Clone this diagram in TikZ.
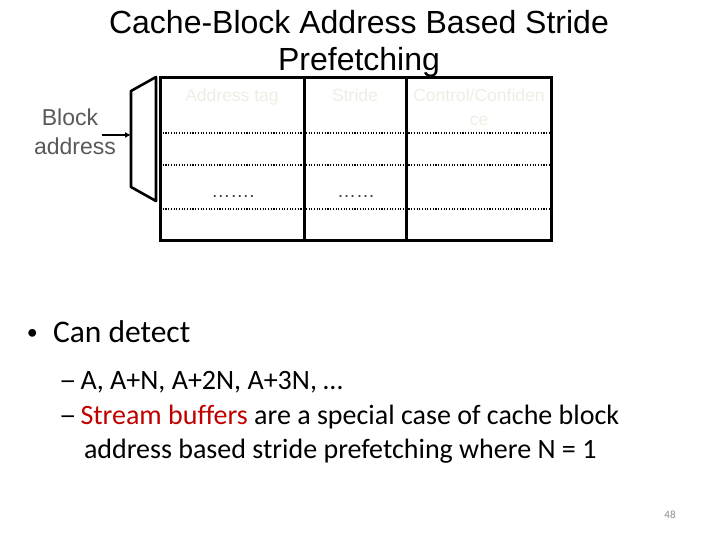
\documentclass[tikz,border=0pt]{standalone}
\usepackage{fontspec}
\usepackage{graphicx}
\setmainfont{Carlito}[Ligatures=CommonOff]
\newfontfamily\arialfont{Liberation Sans}
\usetikzlibrary{arrows.meta}
\definecolor{slideRed}{HTML}{C00000}
\definecolor{slideGray}{HTML}{595959}
\definecolor{pageGray}{HTML}{8C8C8C}
\definecolor{headTint}{HTML}{EFEDE3}
\newcommand{\bulletmark}{\makebox[26pt][l]{\raisebox{2.5pt}{\fontsize{22}{26}\selectfont\textbullet}}}
\newcommand{\dashmark}{\makebox[18.5pt][l]{\hspace{-3pt}\scalebox{1.25}[1]{–}}}
\tikzset{
    EMPTY/.style={inner sep=0mm, outer sep=0mm},
    TITLE_TEXT/.style={EMPTY, anchor=base, font={\arialfont\fontsize{32}{38}\selectfont}},
    LABEL_TEXT/.style={EMPTY, anchor=base, text=slideGray,
        font={\arialfont\fontsize{23}{27}\selectfont}},
    HEAD_TEXT/.style={EMPTY, anchor=base, text=headTint,
        font={\arialfont\fontsize{17.5}{21}\selectfont}},
    DOTS_TEXT/.style={EMPTY, anchor=base, text=black!75,
        font={\arialfont\fontsize{19}{22}\selectfont}},
    BULLET_TEXT/.style={EMPTY, anchor=base west, font={\fontsize{31.5}{38}\selectfont}},
    SUB_TEXT/.style={EMPTY, anchor=base west, font={\fontsize{28}{34}\selectfont}},
    PAGE_TEXT/.style={EMPTY, anchor=base, text=pageGray, font={\fontsize{11}{13}\selectfont}},
    EDGE/.style={draw=black, line width=3pt},
    MUX_EDGE/.style={draw=black, line width=2.6pt, line join=round},
    ARROW_EDGE/.style={draw=black, line width=2.4pt, -{Latex[length=6pt, width=6pt]}},
    DOTTED_EDGE/.style={-, dash pattern=on 1.1pt off 1.6pt, line width=1.1pt, black}
}
\pgfdeclarelayer{edgelayer}
\pgfdeclarelayer{nodelayer}
\pgfsetlayers{edgelayer,nodelayer,main}

\begin{document}
\begin{tikzpicture}[x=1pt, y=-1pt]
    \useasboundingbox (0,0) rectangle (720,540);
    \begin{pgfonlayer}{nodelayer}
        % title and labels
        \node [TITLE_TEXT] (1) at (359, 34) {Cache-Block Address Based Stride};
        \node [TITLE_TEXT] (2) at (359, 71) {Prefetching};
        \node [LABEL_TEXT] (3) at (70, 126) {Block};
        \node [LABEL_TEXT] (4) at (75, 155) {address};
        \node [HEAD_TEXT] (5) at (232, 102) {Address tag};
        \node [HEAD_TEXT] (6) at (355, 102) {Stride};
        \node [HEAD_TEXT] (7) at (479, 102) {Control/Confiden};
        \node [HEAD_TEXT] (8) at (479, 126) {ce};
        \node [DOTS_TEXT] (9) at (233, 197) {\ldots\ldots.};
        \node [DOTS_TEXT] (10) at (356, 197) {\ldots\ldots};
        % bullets
        \node [BULLET_TEXT] (11) at (27, 342) {\bulletmark Can detect};
        \node [SUB_TEXT] (12) at (62, 389) {\dashmark A, A+N, A+2N, A+3N, …};
        \node [SUB_TEXT] (13) at (62, 424) {\dashmark\textcolor{slideRed}{Stream buffers} are a special case of cache block};
        \node [SUB_TEXT] (14) at (84, 458) {address based stride prefetching where N = 1};
        \node [PAGE_TEXT] (15) at (670, 518) {48};
        % corners
        \coordinate (16) at (160, 78);
        \coordinate (17) at (551, 78);
        \coordinate (18) at (551, 240);
        \coordinate (19) at (160, 240);
        \coordinate (20) at (304, 78);
        \coordinate (21) at (304, 240);
        \coordinate (22) at (406, 78);
        \coordinate (23) at (406, 240);
        \coordinate (24) at (160, 133);
        \coordinate (25) at (551, 133);
        \coordinate (26) at (160, 165);
        \coordinate (27) at (551, 165);
        \coordinate (28) at (160, 209);
        \coordinate (29) at (551, 209);
        \coordinate (30) at (131, 91);
        \coordinate (31) at (156, 77);
        \coordinate (32) at (156, 201);
        \coordinate (33) at (131, 187);
        \coordinate (34) at (102, 135);
        \coordinate (35) at (131, 135);
    \end{pgfonlayer}
    \begin{pgfonlayer}{edgelayer}
        \draw[DOTTED_EDGE] (24) to (25);
        \draw[DOTTED_EDGE] (26) to (27);
        \draw[DOTTED_EDGE] (28) to (29);
        \draw[EDGE] (16) -- (17) -- (18) -- (19) -- cycle;
        \draw[EDGE] (20) to (21);
        \draw[EDGE] (22) to (23);
        \draw[MUX_EDGE] (31) -- (30) -- (33) -- (32) -- cycle;
        \draw[ARROW_EDGE] (34) to (35);
    \end{pgfonlayer}
\end{tikzpicture}
\end{document}
